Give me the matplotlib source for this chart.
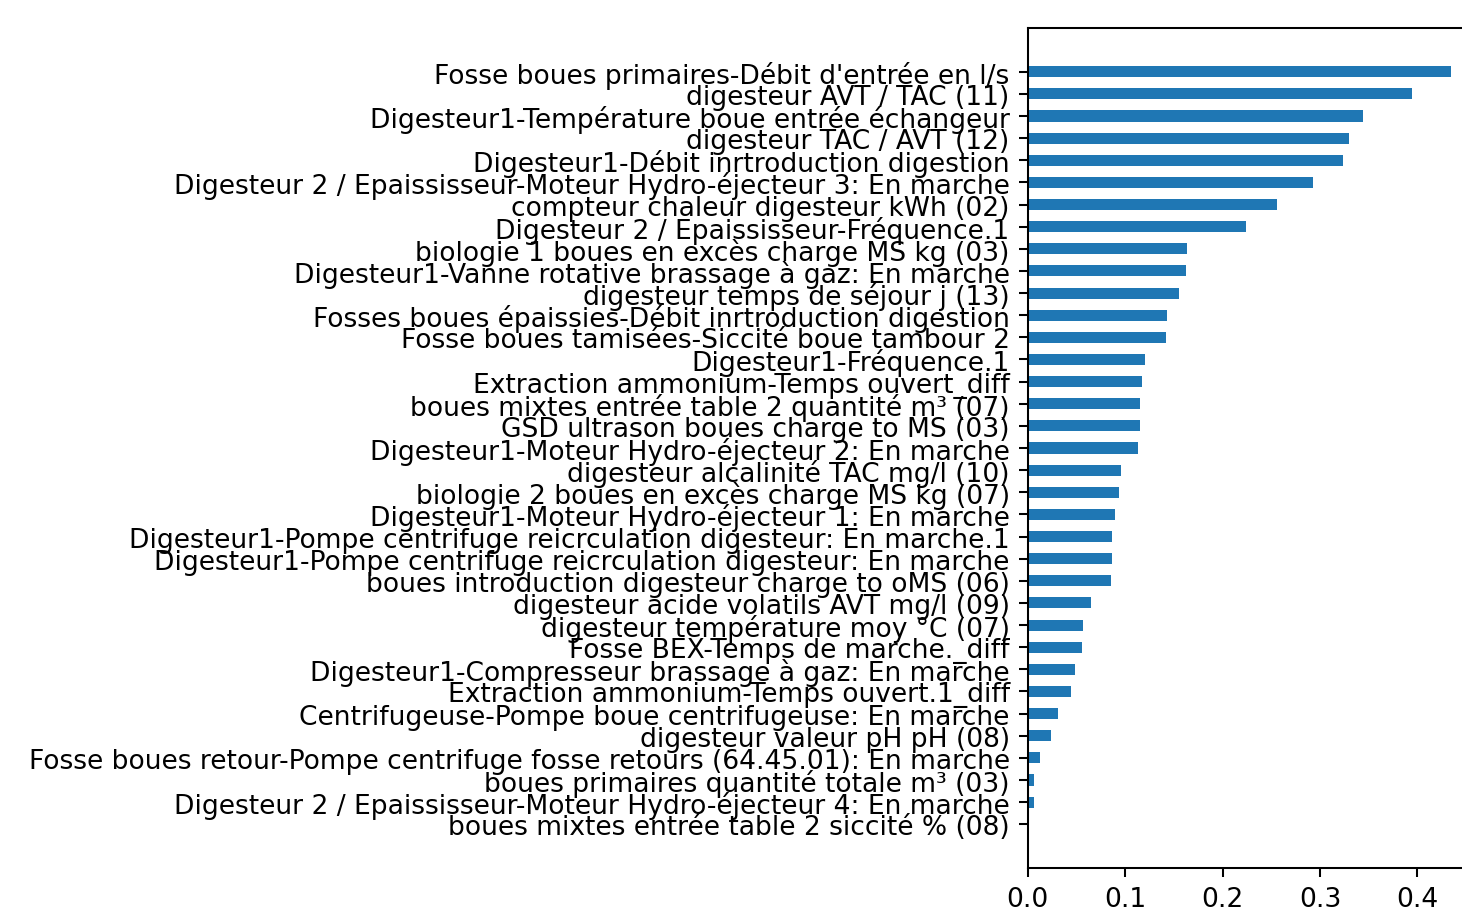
import matplotlib
matplotlib.use("Agg")
import matplotlib.pyplot as plt

# Feature importances, listed from most to least important
features = [
    "Fosse boues primaires-Débit d'entrée en l/s",
    "digesteur AVT / TAC (11)",
    "Digesteur1-Température boue entrée échangeur",
    "digesteur TAC / AVT (12)",
    "Digesteur1-Débit inrtroduction digestion",
    "Digesteur 2 / Epaississeur-Moteur Hydro-éjecteur 3: En marche",
    "compteur chaleur digesteur kWh (02)",
    "Digesteur 2 / Epaississeur-Fréquence.1",
    "biologie 1 boues en excès charge MS kg (03)",
    "Digesteur1-Vanne rotative brassage à gaz: En marche",
    "digesteur temps de séjour j (13)",
    "Fosses boues épaissies-Débit inrtroduction digestion",
    "Fosse boues tamisées-Siccité boue tambour 2",
    "Digesteur1-Fréquence.1",
    "Extraction ammonium-Temps ouvert_diff",
    "boues mixtes entrée table 2 quantité m³ (07)",
    "GSD ultrason boues charge to MS (03)",
    "Digesteur1-Moteur Hydro-éjecteur 2: En marche",
    "digesteur alcalinité TAC mg/l (10)",
    "biologie 2 boues en excès charge MS kg (07)",
    "Digesteur1-Moteur Hydro-éjecteur 1: En marche",
    "Digesteur1-Pompe centrifuge reicrculation digesteur: En marche.1",
    "Digesteur1-Pompe centrifuge reicrculation digesteur: En marche",
    "boues introduction digesteur charge to oMS (06)",
    "digesteur acide volatils AVT mg/l (09)",
    "digesteur température moy °C (07)",
    "Fosse BEX-Temps de marche._diff",
    "Digesteur1-Compresseur brassage à gaz: En marche",
    "Extraction ammonium-Temps ouvert.1_diff",
    "Centrifugeuse-Pompe boue centrifugeuse: En marche",
    "digesteur valeur pH pH (08)",
    "Fosse boues retour-Pompe centrifuge fosse retours (64.45.01): En marche",
    "boues primaires quantité totale m³ (03)",
    "Digesteur 2 / Epaississeur-Moteur Hydro-éjecteur 4: En marche",
    "boues mixtes entrée table 2 siccité % (08)",
]

importances = [
    0.434, 0.394, 0.344, 0.330, 0.324, 0.293, 0.256, 0.224,
    0.163, 0.162, 0.155, 0.143, 0.142, 0.120, 0.117, 0.115,
    0.115, 0.113, 0.096, 0.094, 0.090, 0.087, 0.0865, 0.085,
    0.065, 0.057, 0.056, 0.049, 0.044, 0.031, 0.024, 0.0126,
    0.0068, 0.0061, 0.001,
]

# barh draws from the bottom up, so reverse to keep the largest on top
labels = features[::-1]
values = importances[::-1]

plt.rcParams["font.size"] = 10.3

fig = plt.figure(figsize=(1462 / 185, 915 / 185), dpi=185)
ax = fig.add_axes([1027.7 / 1462, 46 / 915, 444 / 1462, 840 / 915])

ax.barh(range(len(values)), values, height=0.5, color="#1f77b4")
ax.set_yticks(range(len(labels)))
ax.set_yticklabels(labels)

fig.savefig("out.png", dpi=185)
